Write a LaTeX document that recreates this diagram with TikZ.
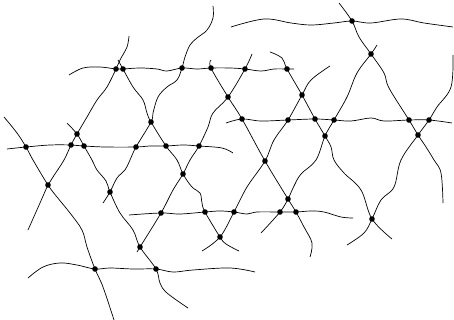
\documentclass[tikz,border=0pt]{standalone}
\begin{document}
\begin{tikzpicture}[x=1pt, y=-1pt, wave/.style={line width=0.7pt, smooth, tension=0.6}]
    \useasboundingbox (0,0) rectangle (454,320);
    % crossing points
    \coordinate (t1) at (352,21);
    \coordinate (t2) at (371,54);
    \coordinate (a1) at (116,69);
    \coordinate (a2) at (123,69);
    \coordinate (a3) at (182,68);
    \coordinate (a4) at (211,68);
    \coordinate (a5) at (245,69);
    \coordinate (a6) at (287,69);
    \coordinate (b1) at (228,97);
    \coordinate (b2) at (302,95);
    \coordinate (c1) at (151,122);
    \coordinate (c2) at (242,119);
    \coordinate (c3) at (288,120);
    \coordinate (c4) at (315,119);
    \coordinate (c5) at (334,120);
    \coordinate (c6) at (409,120);
    \coordinate (c7) at (429,120);
    \coordinate (d1) at (77,134);
    \coordinate (d2) at (325,136);
    \coordinate (d3) at (418,135);
    \coordinate (e1) at (26,147);
    \coordinate (e2) at (71,145);
    \coordinate (e3) at (84,146);
    \coordinate (e4) at (136,147);
    \coordinate (e5) at (166,146);
    \coordinate (e6) at (199,146);
    \coordinate (f1) at (265,161);
    \coordinate (g1) at (48,185);
    \coordinate (g2) at (110,192);
    \coordinate (g3) at (183,174);
    \coordinate (g4) at (288,199);
    \coordinate (h1) at (161,213);
    \coordinate (h2) at (205,212);
    \coordinate (h3) at (234,212);
    \coordinate (h4) at (280,212);
    \coordinate (h5) at (296,212);
    \coordinate (h6) at (372,219);
    \coordinate (i1) at (220,237);
    \coordinate (i2) at (140,247);
    \coordinate (k1) at (95,269);
    \coordinate (k2) at (156,269);

    % nearly horizontal lines
    \draw[wave] plot coordinates {(231,27) (264,19) (291,23) (311,25) (334,23) (t1) (371,23) (401,19) (424,23) (453,27)};
    \draw[wave] plot coordinates {(69,75) (83,68) (100,67) (a1) (a2) (140,68) (157,69) (167,71) (a3) (197,69) (a4) (230,68) (a5) (261,71) (274,69) (a6) (294,69)};
    \draw[wave] plot coordinates {(7,149) (e1) (50,145) (e2) (e3) (105,147) (e4) (150,146) (e5) (183,145) (e6) (222,148) (233,153)};
    \draw[wave] plot coordinates {(226,123) (c2) (261,121) (c3) (c4) (c5) (351,121) (371,118) (384,121) (c6) (c7) (452,123)};
    \draw[wave] plot coordinates {(129,215) (h1) (180,214) (h2) (220,211) (h3) (247,214) (257,212) (h4) (h5) (311,211) (324,212) (341,217) (353,218)};
    \draw[wave] plot coordinates {(28,278) (43,267) (60,263) (77,265) (k1) (110,268) (133,269) (k2) (173,272) (193,270) (230,268) (255,272)};

    % falling lines
    \draw[wave] plot coordinates {(4,117) (17,133) (e1) (33,160) (g1) (57,197) (70,213) (82,230) (87,247) (k1) (103,287) (114,320)};
    \draw[wave] plot coordinates {(67,123) (d1) (e3) (92,160) (97,170) (106,181) (g2) (120,213) (133,230) (i2) (k2) (160,283) (167,293) (188,308)};
    \draw[wave] plot coordinates {(118,60) (a2) (133,87) (143,100) (147,113) (c1) (e5) (177,160) (g3) (192,187) (200,193) (202,203) (h2) (i1) (226,244) (239,251)};
    \draw[wave] plot coordinates {(211,60) (a4) (b1) (c2) (f1) (g4) (h5) (304,227) (312,243) (310,257)};
    \draw[wave] plot coordinates {(270,52) (282,58) (a6) (b2) (c4) (d2) (331,147) (334,160) (344,173) (361,190) (h6) (392,239)};
    \draw[wave] plot coordinates {(339,3) (t1) (359,37) (t2) (384,73) (389,88) (c6) (d3) (426,147) (434,160) (441,173) (443,203)};

    % rising lines
    \draw[wave] plot coordinates {(129,36) (127,47) (120,60) (a1) (107,87) (97,100) (87,117) (d1) (e2) (64,160) (53,177) (g1) (40,203) (28,230)};
    \draw[wave] plot coordinates {(213,6) (213,18) (207,30) (197,38) (190,45) (185,57) (a3) (177,80) (167,87) (158,97) (153,113) (c1) (e4) (130,160) (125,170) (117,178) (g2) (103,203)};
    \draw[wave] plot coordinates {(252,54) (a5) (b1) (213,113) (208,127) (e6) (190,160) (g3) (173,190) (h1) (i2) (137,252)};
    \draw[wave] plot coordinates {(330,66) (311,80) (b2) (c3) (274,140) (f1) (247,187) (h3) (i1) (202,251)};
    \draw[wave] plot coordinates {(377,45) (t2) (357,73) (347,97) (c5) (d2) (316,160) (301,174) (294,186) (g4) (h4) (261,233)};
    \draw[wave] plot coordinates {(453,55) (451,87) (437,107) (c7) (d3) (401,160) (394,187) (381,200) (h6) (364,233) (347,245)};

    \foreach \p in {t1,t2,a1,a2,a3,a4,a5,a6,b1,b2,c1,c2,c3,c4,c5,c6,c7,d1,d2,d3,
                    e1,e2,e3,e4,e5,e6,f1,g1,g2,g3,g4,h1,h2,h3,h4,h5,h6,i1,i2,k1,k2}
        \fill (\p) circle (2.8pt);
\end{tikzpicture}
\end{document}
